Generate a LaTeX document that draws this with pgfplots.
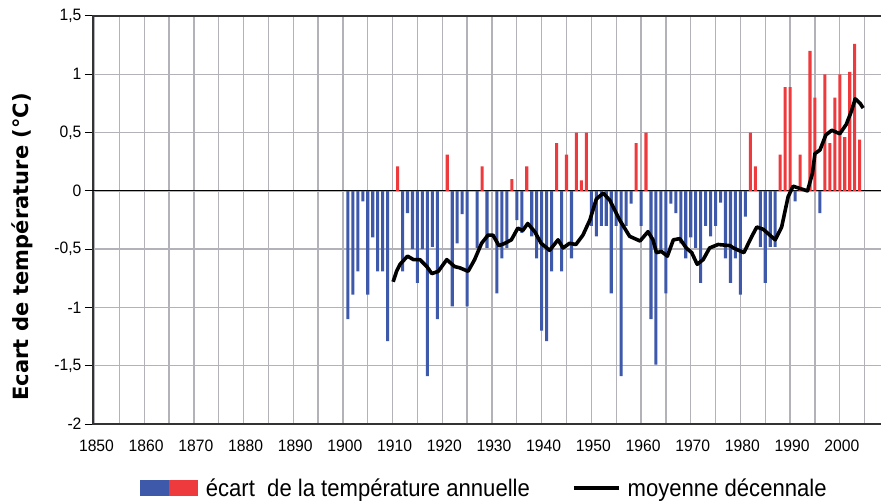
\documentclass[border=0pt]{standalone}
\usepackage{pgfplots}
\usepackage{pgfplotstable}
\pgfplotsset{compat=1.18}
\usepackage{fontspec}
\setmainfont{Liberation Sans}
\newfontfamily\narrowfont[FakeStretch=0.92]{Liberation Sans}
\newfontfamily\ticksfont[FakeStretch=0.95]{Liberation Sans}
\newfontfamily\labelfont{DejaVu Sans}
\definecolor{barblue}{RGB}{62,88,170}
\definecolor{barred}{RGB}{238,58,60}
\definecolor{gridgray}{RGB}{178,178,184}

% annual anomalies below zero
\pgfplotstableread{
year dt
1901 -1.10
1902 -0.89
1903 -0.69
1904 -0.09
1905 -0.89
1906 -0.40
1907 -0.69
1908 -0.69
1909 -1.29
1912 -0.69
1913 -0.19
1914 -0.50
1915 -0.79
1916 -0.50
1917 -1.59
1918 -0.48
1919 -1.10
1922 -0.99
1923 -0.45
1924 -0.20
1925 -0.99
1927 -0.49
1929 -0.49
1931 -0.88
1932 -0.58
1933 -0.49
1935 -0.25
1936 -0.36
1938 -0.39
1939 -0.58
1940 -1.20
1941 -1.29
1942 -0.69
1944 -0.69
1946 -0.58
1950 -0.30
1951 -0.39
1952 -0.30
1953 -0.30
1954 -0.88
1955 -0.30
1956 -1.59
1957 -0.30
1958 -0.11
1960 -0.30
1962 -1.10
1963 -1.49
1964 -0.51
1965 -0.88
1966 -0.11
1967 -0.19
1968 -0.45
1969 -0.58
1970 -0.40
1971 -0.49
1972 -0.79
1973 -0.30
1974 -0.39
1975 -0.30
1976 -0.10
1977 -0.58
1978 -0.79
1979 -0.58
1980 -0.89
1981 -0.22
1984 -0.48
1985 -0.79
1986 -0.48
1987 -0.48
1991 -0.09
1996 -0.19
}\negdata

% annual anomalies above zero
\pgfplotstableread{
year dt
1911 0.21
1921 0.31
1928 0.21
1934 0.10
1937 0.21
1943 0.41
1945 0.31
1947 0.50
1948 0.09
1949 0.50
1959 0.41
1961 0.50
1982 0.50
1983 0.21
1988 0.31
1989 0.89
1990 0.89
1992 0.31
1994 1.20
1995 0.80
1997 1.00
1998 0.41
1999 0.80
2000 1.00
2001 0.46
2002 1.02
2003 1.26
2004 0.44
}\posdata

% ten-year running mean
\pgfplotstableread{
year dt
1910.1 -0.78
1910.8 -0.69
1911.5 -0.63
1913.0 -0.56
1914.2 -0.59
1915.5 -0.59
1916.9 -0.65
1917.9 -0.71
1919.2 -0.69
1920.9 -0.59
1922.5 -0.65
1923.5 -0.66
1925.2 -0.69
1926.5 -0.59
1927.9 -0.45
1929.2 -0.38
1930.2 -0.38
1931.4 -0.47
1932.6 -0.45
1933.9 -0.42
1935.2 -0.32
1936.2 -0.34
1937.2 -0.28
1938.6 -0.35
1939.9 -0.45
1941.6 -0.51
1943.3 -0.42
1944.3 -0.49
1945.6 -0.45
1946.9 -0.46
1948.3 -0.38
1949.7 -0.25
1951.0 -0.07
1952.4 -0.02
1953.7 -0.08
1955.7 -0.25
1957.7 -0.39
1959.8 -0.43
1961.4 -0.35
1962.4 -0.42
1963.1 -0.53
1964.1 -0.52
1965.3 -0.56
1966.5 -0.42
1967.8 -0.41
1969.1 -0.49
1970.2 -0.53
1971.3 -0.63
1972.5 -0.59
1973.8 -0.49
1975.5 -0.46
1977.9 -0.47
1978.6 -0.49
1980.7 -0.53
1982.3 -0.39
1983.3 -0.31
1984.6 -0.33
1987.0 -0.42
1988.3 -0.31
1989.6 -0.05
1990.6 0.04
1992.0 0.02
1993.5 0.00
1994.5 0.15
1995.0 0.32
1996.0 0.35
1997.2 0.48
1998.4 0.52
2000.0 0.49
2001.3 0.57
2002.4 0.69
2003.1 0.79
2004.1 0.75
2004.7 0.71
}\meandata

\begin{document}
\begin{tikzpicture}
\begin{axis}[
  name=ax,
  scale only axis,
  width=792pt, height=408pt,
  xmin=1849.7, xmax=2009.1,
  ymin=-2, ymax=1.5,
  axis line style={black!80, line width=1.2pt},
  xtick={1850,1860,...,2000},
  minor xtick={1850,1855,...,2005},
  ytick={-2,-1.5,...,1.5},
  xminorgrids, ymajorgrids,
  grid style={gridgray, line width=1.3pt},
  minor grid style={gridgray, line width=1.3pt},
  xtick style={draw=none},
  minor tick length=0pt,
  ytick pos=left,
  tick align=outside,
  major tick length=8pt,
  ytick style={black, line width=1pt},
  /pgf/number format/.cd, use comma, 1000 sep={}, assume math mode=true,
  /pgfplots/.cd,
  tick label style={font=\ticksfont\fontsize{16.5pt}{16.5pt}\selectfont},
  xticklabel style={yshift=-4pt, xshift=2pt},
  extra y ticks={0},
  extra y tick labels={},
  extra y tick style={grid style={black, line width=1.2pt}},
  every axis y label/.style={at={(axis description cs:-0.0896,0.434)}, rotate=90, anchor=center},
  ylabel={\labelfont\bfseries\fontsize{21pt}{21pt}\selectfont Ecart de température (°C)},
  legend style={at={(axis description cs:0.494,-0.158)}, anchor=center, draw=none, fill=none,
    legend columns=2, font=\narrowfont\fontsize{24pt}{24pt}\selectfont,
    /tikz/every even column/.append style={column sep=40pt}},
  legend cell align=left,
]
\addplot[ybar, bar width=0.62, bar shift=0pt, fill=barblue, draw=none,
  legend image code/.code={%
    \fill[barblue] (0pt,-8pt) rectangle (29pt,8pt);
    \fill[barred] (29pt,-8pt) rectangle (58pt,8pt);
    \path (64pt,0pt);}]
  table[x=year, y=dt] {\negdata};
\addlegendentry{écart\ \ de la température annuelle}
\addplot[ybar, bar width=0.62, bar shift=0pt, fill=barred, draw=none, forget plot]
  table[x=year, y=dt] {\posdata};
\addplot[black, line width=3.6pt, line join=round,
  legend image code/.code={\draw[black, line width=4pt] (0pt,0pt) -- (45pt,0pt); \path (50pt,0pt);}]
  table[x=year, y=dt] {\meandata};
\addlegendentry{moyenne décennale}
\end{axis}
\pgfresetboundingbox
\path (ax.south west) ++(-93pt,-77pt) rectangle ++(881pt,501pt);
\end{tikzpicture}
\end{document}
